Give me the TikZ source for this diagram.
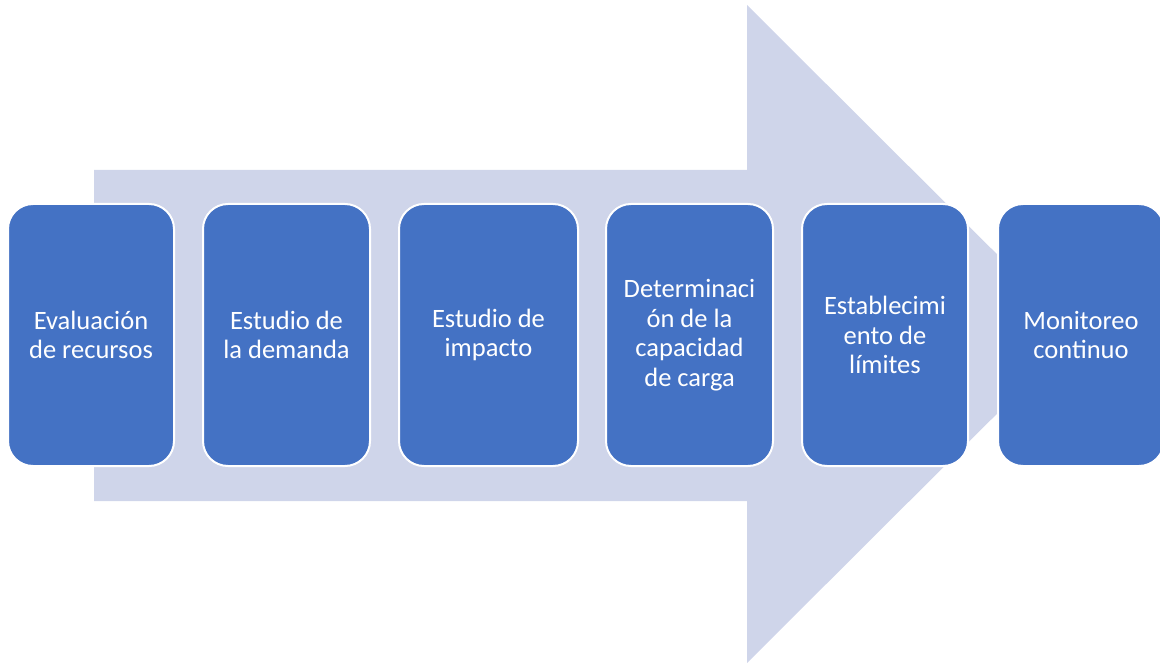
\documentclass[tikz,border=0pt]{standalone}
\usepackage{fontspec}
\setmainfont{Carlito}
\definecolor{boxblue}{HTML}{4472C4}
\definecolor{arrowfill}{HTML}{CFD5EA}
\begin{document}
\begin{tikzpicture}[x=1pt,y=-1pt,
  stepbox/.style={draw=white, line width=2pt, fill=boxblue, rounded corners=25pt,
    minimum height=262pt, inner sep=0pt, align=center, text=white,
    font=\fontsize{26.5}{29.5}\selectfont}]
\useasboundingbox (0,0) rectangle (1160,663);
\fill[arrowfill] (94,170) -- (747,170) -- (747,5) -- (1077,334) -- (747,663) -- (747,501) -- (94,501) -- cycle;
\node[stepbox, minimum width=166pt] (b1) at (91,335) {Evaluación\\de recursos};
\node[stepbox, minimum width=167pt] (b2) at (286.5,335) {Estudio de\\la demanda};
\node[stepbox, minimum width=179pt] (b3) at (488.5,335) {Estudio de\\impacto};
\node[stepbox, minimum width=167pt] (b4) at (689.5,335) {Determinaci\\ón de la\\capacidad\\de carga};
\node[stepbox, minimum width=166pt] (b5) at (885,335) {Establecimi\\ento de\\límites};
\node[stepbox, minimum width=166pt] (b6) at (1081,335) {Monitoreo\\continuo};
\end{tikzpicture}
\end{document}
